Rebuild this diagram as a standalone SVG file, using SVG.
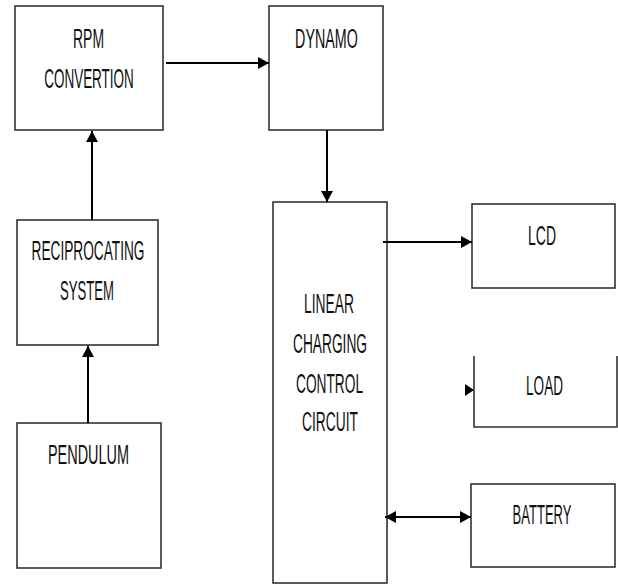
<svg xmlns="http://www.w3.org/2000/svg" width="618" height="584" viewBox="0 0 618 584">
<defs>
<marker id="ah" markerWidth="11" markerHeight="12" refX="11" refY="6" orient="auto" markerUnits="userSpaceOnUse">
<path d="M0,0 L11,6 L0,12 Z" fill="#000"/>
</marker>
<marker id="ahs" markerWidth="11" markerHeight="12" refX="0" refY="6" orient="auto" markerUnits="userSpaceOnUse">
<path d="M11,0 L0,6 L11,12 Z" fill="#000"/>
</marker>
<style>
.box{fill:#fff;stroke:#333;stroke-width:1.6}
.ln{fill:none;stroke:#333;stroke-width:1.6}
.t{font-family:"Liberation Sans",Arial,sans-serif;font-size:27px;fill:#111;text-anchor:middle}
.c{fill:none;stroke:#000;stroke-width:2}
</style>
</defs>
<rect width="618" height="584" fill="#fff"/>
<g id="rpm">
<rect class="box" x="15" y="6" width="148" height="124"/>
<text class="t" transform="translate(88.5,48) scale(0.517,1)">RPM</text>
<text class="t" transform="translate(89,88) scale(0.5,1)">CONVERTION</text>
</g>
<g id="dynamo">
<rect class="box" x="269" y="6" width="114" height="124"/>
<text class="t" transform="translate(326.5,48) scale(0.53,1)">DYNAMO</text>
</g>
<g id="reciprocating">
<rect class="box" x="17" y="220" width="141" height="125"/>
<text class="t" transform="translate(88,260) scale(0.507,1)">RECIPROCATING</text>
<text class="t" transform="translate(87,300) scale(0.486,1)">SYSTEM</text>
</g>
<g id="pendulum">
<rect class="box" x="17" y="423" width="144" height="145"/>
<text class="t" transform="translate(88.5,464) scale(0.535,1)">PENDULUM</text>
</g>
<g id="linear">
<rect class="box" x="273" y="202" width="114" height="381"/>
<text class="t" transform="translate(329,313) scale(0.513,1)">LINEAR</text>
<text class="t" transform="translate(330,353) scale(0.509,1)">CHARGING</text>
<text class="t" transform="translate(329.5,393) scale(0.508,1)">CONTROL</text>
<text class="t" transform="translate(330,431) scale(0.511,1)">CIRCUIT</text>
</g>
<g id="lcd">
<rect class="box" x="472" y="204" width="143" height="84"/>
<text class="t" transform="translate(542,245) scale(0.519,1)">LCD</text>
</g>
<g id="load">
<path class="ln" d="M474,356 V427 H617 V356"/>
<text class="t" transform="translate(544.5,395) scale(0.503,1)">LOAD</text>
</g>
<g id="battery">
<rect class="box" x="471" y="484" width="144" height="83"/>
<text class="t" transform="translate(542,524) scale(0.482,1)">BATTERY</text>
</g>
<g id="connectors">
<line class="c" x1="166" y1="63" x2="269" y2="63" marker-end="url(#ah)"/>
<line class="c" x1="327" y1="130" x2="327" y2="202" marker-end="url(#ah)"/>
<line class="c" x1="92" y1="220" x2="92" y2="131" marker-end="url(#ah)"/>
<line class="c" x1="88" y1="423" x2="88" y2="346" marker-end="url(#ah)"/>
<line class="c" x1="383" y1="242" x2="472" y2="242" marker-end="url(#ah)"/>
<path d="M465,384 L474,390 L465,396 Z" fill="#000"/>
<line class="c" x1="385" y1="517" x2="471" y2="517" marker-start="url(#ahs)" marker-end="url(#ah)"/>
</g>
</svg>
